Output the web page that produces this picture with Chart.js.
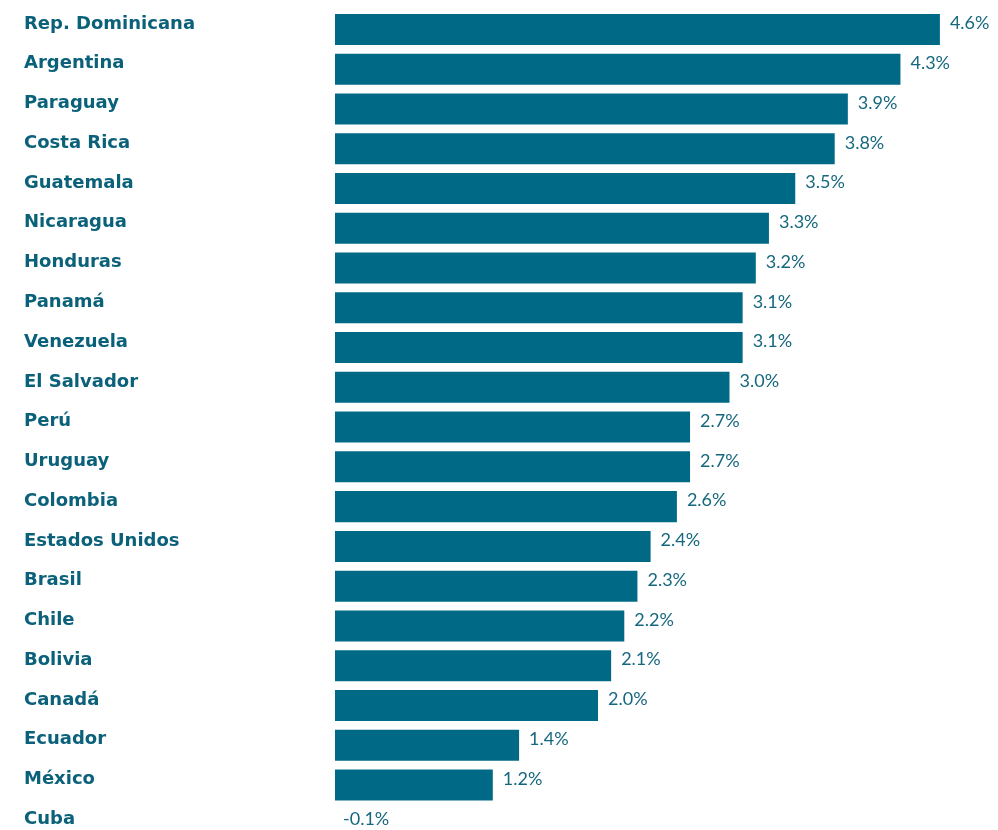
<!DOCTYPE html>
<html>
<head>
<meta charset="utf-8">
<script src="https://cdn.jsdelivr.net/npm/chart.js@4"></script>
<style>
  html, body { margin: 0; padding: 0; background: #fff; overflow: hidden; }
  #wrap { width: 998px; height: 850px; }
</style>
</head>
<body>
<div id="wrap"><canvas id="growthChart" width="998" height="850"></canvas></div>
<script>
// Paises y crecimiento (%)
const countries = ['Rep. Dominicana', 'Argentina', 'Paraguay', 'Costa Rica', 'Guatemala', 'Nicaragua',
  'Honduras', 'Panamá', 'Venezuela', 'El Salvador', 'Perú', 'Uruguay', 'Colombia', 'Estados Unidos',
  'Brasil', 'Chile', 'Bolivia', 'Canadá', 'Ecuador', 'México', 'Cuba'];
const growth = [4.6, 4.3, 3.9, 3.8, 3.5, 3.3, 3.2, 3.1, 3.1, 3.0, 2.7, 2.7, 2.6, 2.4, 2.3, 2.2, 2.1, 2.0, 1.4, 1.2, -0.1];

const barColor = '#006a86';
const nameColor = '#0a6179';
const valueColor = '#16687f';

// etiquetas de valor a la derecha de cada barra
const valueLabels = {
  id: 'valueLabels',
  afterDatasetsDraw(chart) {
    const ctx = chart.ctx;
    const meta = chart.getDatasetMeta(0);
    const xScale = chart.scales.x;
    ctx.save();
    ctx.font = '18px Lato';
    ctx.fillStyle = valueColor;
    ctx.textAlign = 'left';
    ctx.textBaseline = 'middle';
    meta.data.forEach((bar, i) => {
      const v = growth[i];
      const x = xScale.getPixelForValue(Math.max(v, 0)) + (v < 0 ? 8 : 10);
      ctx.fillText(v.toFixed(1) + '%', x, bar.y - 6);
    });
    ctx.restore();
  }
};

const ctx = document.getElementById('growthChart').getContext('2d');
const growthChart = new Chart(ctx, {
  type: 'bar',
  data: {
    labels: countries,
    datasets: [{
      data: growth,
      backgroundColor: barColor,
      borderWidth: 0,
      categoryPercentage: 0.78,
      barPercentage: 1
    }]
  },
  options: {
    indexAxis: 'y',
    responsive: false,
    animation: false,
    layout: { padding: { left: 24, right: 5.5, top: 9.6, bottom: 5.4 } },
    plugins: {
      legend: { display: false },
      tooltip: { enabled: false }
    },
    scales: {
      x: {
        display: false,
        min: 0,
        max: 5
      },
      y: {
        grid: { display: false },
        border: { display: false },
        afterFit(scale) {
          scale.width = 311;
          scale.paddingTop = 0;
          scale.paddingBottom = 0;
        },
        ticks: {
          crossAlign: 'far',
          labelOffset: -5.5,
          color: nameColor,
          font: { family: 'DejaVu Sans', size: 18, weight: 'bold' }
        }
      }
    }
  },
  plugins: [valueLabels]
});
</script>
</body>
</html>
